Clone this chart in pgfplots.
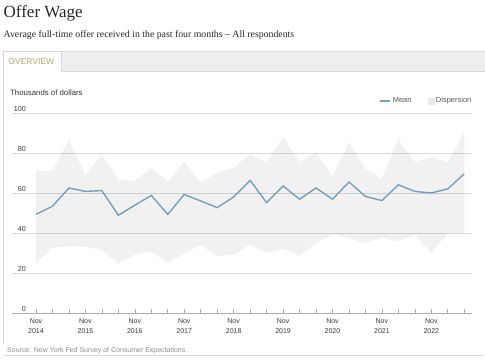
\documentclass[border=0pt]{standalone}
\usepackage{fontspec}
\setmainfont{Liberation Serif}
\newfontfamily\arial{Liberation Sans}
\usepackage{pgfplots}
\usepackage{pgfplotstable}
\pgfplotsset{compat=1.18}
\definecolor{meanblue}{RGB}{115,160,188}
\definecolor{bandleg}{RGB}{232,232,232}
\definecolor{gridc}{RGB}{218,218,218}
\definecolor{tabgray}{RGB}{238,238,238}
\definecolor{tabtext}{RGB}{180,165,115}
\definecolor{bordergray}{RGB}{215,215,215}
\definecolor{axisgray}{RGB}{175,175,175}

\pgfplotstableread{
i mean
0 49.3
1 53.4
2 62.5
3 60.8
4 61.2
5 48.9
6 53.9
7 58.8
8 49.3
9 59.3
10 56.0
11 52.7
12 58.0
13 66.3
14 55.2
15 63.5
16 56.9
17 62.5
18 56.9
19 65.5
20 58.3
21 56.2
22 64.1
23 60.8
24 60.0
25 62.1
26 69.6
}\meantable

\begin{document}
\begin{tikzpicture}
\path[use as bounding box] (0,0) rectangle (485pt,360pt);
% title and subtitle
\node[anchor=base west, inner sep=0, text=black!85] at (3.5pt,343pt) {\fontsize{17}{17}\selectfont Offer Wage};
\node[anchor=base west, inner sep=0, text=black!85] at (3.5pt,322.5pt) {\fontsize{9.8}{9.8}\selectfont Average full-time offer received in the past four months -- All respondents};
% tab bar
\fill[tabgray] (3pt,289pt) rectangle (485pt,309pt);
\fill[white] (3pt,289pt) rectangle (61pt,309pt);
\draw[bordergray, line width=0.8pt] (3pt,309pt) -- (485pt,309pt);
\draw[bordergray, line width=0.8pt] (61pt,289pt) -- (61pt,309pt);
\draw[bordergray, line width=0.8pt] (61pt,289pt) -- (485pt,289pt);
\draw[bordergray, line width=0.8pt] (3pt,309pt) -- (3pt,16pt);
\draw[bordergray, line width=0.8pt] (3pt,4.5pt) -- (483pt,4.5pt);
\node[anchor=base west, inner sep=0, text=tabtext] at (8.3pt,296pt) {\arial\fontsize{8.5}{8.5}\selectfont OVERVIEW};
\node[anchor=base west, inner sep=0, text=black!80] at (10pt,265pt) {\arial\fontsize{7.8}{7.8}\selectfont Thousands of dollars};
\node[anchor=base west, inner sep=0, text=black!45] at (7pt,7.5pt) {\arial\fontsize{7}{7}\selectfont Source: New York Fed Survey of Consumer Expectations.};
\begin{axis}[
  at={(12pt,47pt)}, anchor=south west, scale only axis,
  width=460pt, height=200pt,
  xmin=-1.457, xmax=26.47, ymin=0, ymax=100,
  axis lines=left,
  axis line style={-, draw=axisgray, line width=0.8pt},
  y axis line style={draw=none},
  ytick={0,20,...,100},
  ymajorgrids,
  grid style={gridc, line width=0.9pt},
  ytick style={draw=none},
  yticklabel style={anchor=south east, xshift=15pt, yshift=0.5pt, inner sep=1pt, text=black!78, font=\arial\fontsize{7.2}{7.2}\selectfont},
  /pgf/number format/assume math mode=true,
  xtick={0,3,...,24},
  minor xtick={0,...,26},
  xtick style={draw=axisgray, line width=0.6pt},
  tick align=inside,
  major tick length=4pt, minor tick length=4pt,
  xticklabels={{Nov\\2014},{Nov\\2015},{Nov\\2016},{Nov\\2017},{Nov\\2018},{Nov\\2019},{Nov\\2020},{Nov\\2021},{Nov\\2022}},
  xticklabel style={align=center, text=black!78, font=\arial\fontsize{7}{9.5}\selectfont, yshift=-2.5pt},
  legend style={at={(1.01,1.06)}, anchor=east, draw=none, fill=none, legend columns=2,
    font=\arial\fontsize{7.5}{7.5}\selectfont, text=black!65,
    /tikz/every even column/.append style={column sep=14pt}},
  clip=false,
]
% dispersion band: upper bound left to right, then lower bound right to left
\addplot[fill=black, fill opacity=0.055, draw=none, forget plot] coordinates {
(0,71.1) (1,71.1) (2,86.6) (3,69.0) (4,79.3) (5,66.6) (6,66.1) (7,72.3) (8,65.7) (9,75.6)
(10,65.3) (11,70.0) (12,72.6) (13,79.5) (14,75.5) (15,87.9) (16,75.5) (17,80.5) (18,68.1)
(19,85.5) (20,72.2) (21,67.3) (22,86.6) (23,75.5) (24,78.0) (25,75.5) (26,90.4)
(26,40.0) (25,40.0) (24,30.0) (23,39.2) (22,35.8) (21,37.5) (20,35.0) (19,37.5) (18,39.2)
(17,35.0) (16,28.7) (15,32.0) (14,30.0) (13,34.2) (12,29.2) (11,28.3) (10,34.2) (9,30.0)
(8,25.0) (7,30.8) (6,29.2) (5,24.6) (4,31.5) (3,33.0) (2,33.5) (1,32.5) (0,25.0)
} -- cycle;
\addplot[meanblue, line width=1.4pt, forget plot] table[x=i,y=mean]{\meantable};
\addlegendimage{legend image code/.code={\draw[meanblue, line width=1.1pt] (0pt,0pt) -- (10pt,0pt);}}
\addlegendentry{Mean}
\addlegendimage{legend image code/.code={\fill[bandleg] (1pt,-3pt) rectangle (7pt,3pt);}}
\addlegendentry{Dispersion}
\end{axis}
\end{tikzpicture}
\end{document}
